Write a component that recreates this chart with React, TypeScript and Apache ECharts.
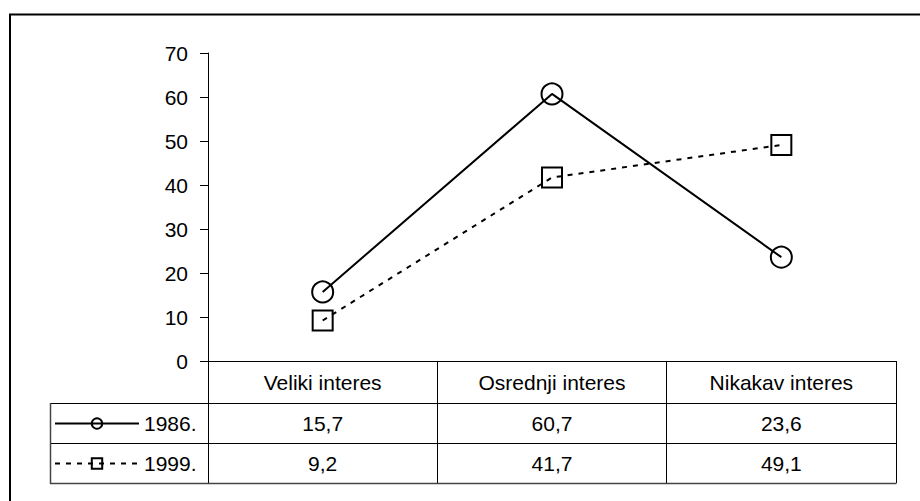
import React, { useEffect, useRef } from "react";
import * as echarts from "echarts";

const categories = ["Veliki interes", "Osrednji interes", "Nikakav interes"];
const series1986 = [15.7, 60.7, 23.6];
const series1999 = [9.2, 41.7, 49.1];
const seriesNames = ["1986.", "1999."];
const yTicks = { min: 0, max: 70, interval: 10 };

const FONT = "Arial, 'Liberation Sans', sans-serif";
const FS = 21;
const fmt = (v: number) => v.toFixed(1).replace(".", ",");

export default function App() {
  const ref = useRef<HTMLDivElement>(null);
  useEffect(() => {
    if (!ref.current) return;
    const chart = echarts.init(ref.current, undefined, { renderer: "svg" });
    const baseText = { color: "#000", fontFamily: FONT, fontSize: FS };
    const valueAxis = (data: number[], margin: number) => ({
      type: "category",
      data: categories,
      position: "bottom",
      boundaryGap: true,
      axisLine: { show: false },
      axisTick: { show: false },
      splitLine: { show: false },
      axisLabel: {
        ...baseText,
        interval: 0,
        margin,
        verticalAlign: "middle",
        formatter: (_v: string, i: number) => fmt(data[i]),
      },
    });
    const option: any = {
      animation: false,
      backgroundColor: "#fff",
      grid: { left: 208, right: 24, top: 53, bottom: 140, containLabel: false },
      xAxis: [
        {
          type: "category",
          data: categories,
          position: "bottom",
          boundaryGap: true,
          axisLine: { show: true, lineStyle: { color: "#000", width: 1 } },
          axisTick: {
            show: true,
            interval: 0,
            inside: false,
            length: 122,
            lineStyle: { color: "#000", width: 1 },
          },
          splitLine: { show: false },
          axisLabel: { ...baseText, interval: 0, margin: 21, verticalAlign: "middle" },
        },
        valueAxis(series1986, 62),
        valueAxis(series1999, 102),
      ],
      yAxis: {
        type: "value",
        min: yTicks.min,
        max: yTicks.max,
        interval: yTicks.interval,
        axisLine: { show: true, lineStyle: { color: "#000", width: 1 } },
        axisTick: { show: true, length: 8, lineStyle: { color: "#000", width: 1 } },
        splitLine: { show: false },
        axisLabel: { ...baseText, margin: 20 },
      },
      legend: [
        {
          data: [seriesNames[0]],
          left: 54,
          top: 413,
          itemWidth: 84,
          itemHeight: 13,
          itemGap: 0,
          padding: 0,
          selectedMode: false,
          textStyle: { ...baseText, lineHeight: 20 },
        },
        {
          data: [seriesNames[1]],
          left: 54,
          top: 453,
          itemWidth: 84,
          itemHeight: 13,
          itemGap: 0,
          padding: 0,
          selectedMode: false,
          textStyle: { ...baseText, lineHeight: 20 },
        },
      ],
      series: [
        {
          name: seriesNames[0],
          type: "line",
          data: series1986,
          symbol: "circle",
          symbolSize: 21,
          lineStyle: { color: "#000", width: 2, type: "solid" },
          itemStyle: { color: "rgba(0,0,0,0)", borderColor: "#000", borderWidth: 2 },
          emphasis: { disabled: true },
          z: 3,
        },
        {
          name: seriesNames[1],
          type: "line",
          data: series1999,
          symbol: "rect",
          symbolSize: 20,
          lineStyle: { color: "#000", width: 2, type: [5, 6] },
          itemStyle: { color: "rgba(0,0,0,0)", borderColor: "#000", borderWidth: 2 },
          emphasis: { disabled: true },
          z: 3,
        },
      ],
      graphic: [
        {
          type: "rect",
          shape: { x: 10, y: 14.5, width: 1000, height: 1000 },
          style: { fill: "none", stroke: "#000", lineWidth: 2 },
          silent: true,
        },
        {
          type: "line",
          shape: { x1: 50, y1: 403.5, x2: 896, y2: 403.5 },
          style: { stroke: "#000", lineWidth: 1 },
        },
        {
          type: "line",
          shape: { x1: 50, y1: 443.5, x2: 896, y2: 443.5 },
          style: { stroke: "#000", lineWidth: 1 },
        },
        {
          type: "line",
          shape: { x1: 50, y1: 483.5, x2: 896.5, y2: 483.5 },
          style: { stroke: "#444", lineWidth: 1.5 },
        },
        {
          type: "line",
          shape: { x1: 50.5, y1: 403, x2: 50.5, y2: 484 },
          style: { stroke: "#444", lineWidth: 1.5 },
        },
      ],
    };
    chart.setOption(option);
    return () => chart.dispose();
  }, []);
  return (
    <div
      ref={ref}
      style={{ position: "fixed", left: 0, top: 0, width: 920, height: 501, background: "#fff" }}
    />
  );
}
